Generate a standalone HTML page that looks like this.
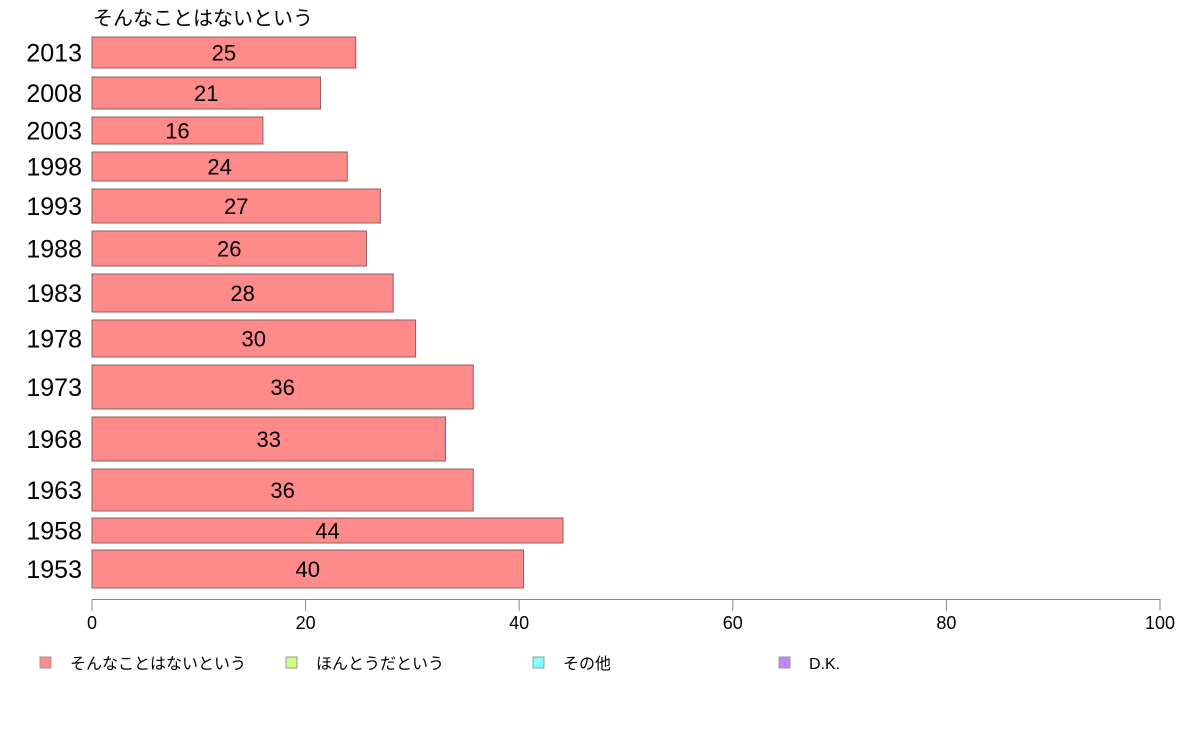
<!DOCTYPE html>
<html><head><meta charset="utf-8"><style>
body{margin:0;background:#fff;width:1188px;height:736px;overflow:hidden;font-family:"Liberation Sans","Noto Sans CJK JP",sans-serif;}
svg text{font-family:"Liberation Sans","Noto Sans CJK JP",sans-serif;}
</style></head><body>
<svg id="chart" width="1188" height="736" xmlns="http://www.w3.org/2000/svg">
<text x="93" y="25" font-size="20">そんなことはないという</text>
<g id="bars"></g>
<g id="axis"></g>
<g id="legend"></g>
</svg>
<script>
const years=["2013","2008","2003","1998","1993","1988","1983","1978","1973","1968","1963","1958","1953"];
const values=[24.7,21.4,16.0,23.9,27.0,25.7,28.2,30.3,35.7,33.1,35.7,44.1,40.4];
const labels=["25","21","16","24","27","26","28","30","36","33","36","44","40"];
const ticks=[0,20,40,60,80,100];
const bandTop=[37,77,117,152,189,231,274,320,365,417,469,518,550];
const bandH=[31,32,27,29,34,35,38,37,44,44,42,25,38];
const legendItems=["そんなことはないという","ほんとうだという","その他","D.K."];
const legendColors=["#ff8a8a","#ccff88","#88ffff","#bb88ff"];
const NS="http://www.w3.org/2000/svg";
const x=v=>92+v*10.68;
function mk(t,a,p){const e=document.createElementNS(NS,t);for(const k in a)e.setAttribute(k,a[k]);p.appendChild(e);return e;}
const gb=document.getElementById('bars');
years.forEach((yr,i)=>{
  const r=mk('rect',{x:92,y:bandTop[i],width:x(values[i])-92,height:bandH[i],fill:'#ff8a8a',stroke:'#8a6060','stroke-width':1},gb);
  
  
  const cy=bandTop[i]+bandH[i]/2;
  const t=mk('text',{x:(92+x(values[i]))/2,y:cy+8,'font-size':22,'text-anchor':'middle'},gb);t.textContent=labels[i];
  
  
  const yl=mk('text',{x:82,y:cy+9,'font-size':25,'text-anchor':'end'},gb);yl.textContent=yr;
  
  
});
const ga=document.getElementById('axis');
const ln=mk('line',{x1:92,x2:1160,y1:599.5,y2:599.5,stroke:'#888'},ga);


ticks.forEach(v=>{
  const tk=mk('line',{x1:x(v),x2:x(v),y1:599,y2:611,stroke:'#888'},ga);
  
  
  const tl=mk('text',{x:x(v),y:629,'font-size':18,'text-anchor':'middle'},ga);tl.textContent=v;
  
  
});
const gl=document.getElementById('legend');
const lx=[40,286,533,779];
legendItems.forEach((s,i)=>{
  const sq=mk('rect',{x:lx[i],y:657,width:11,height:11,fill:legendColors[i],stroke:'#999'},gl);
  
  
  const t=mk('text',{x:lx[i]+30,y:669,'font-size':16},gl);t.textContent=s;
  
  
});
</script>
</body></html>
